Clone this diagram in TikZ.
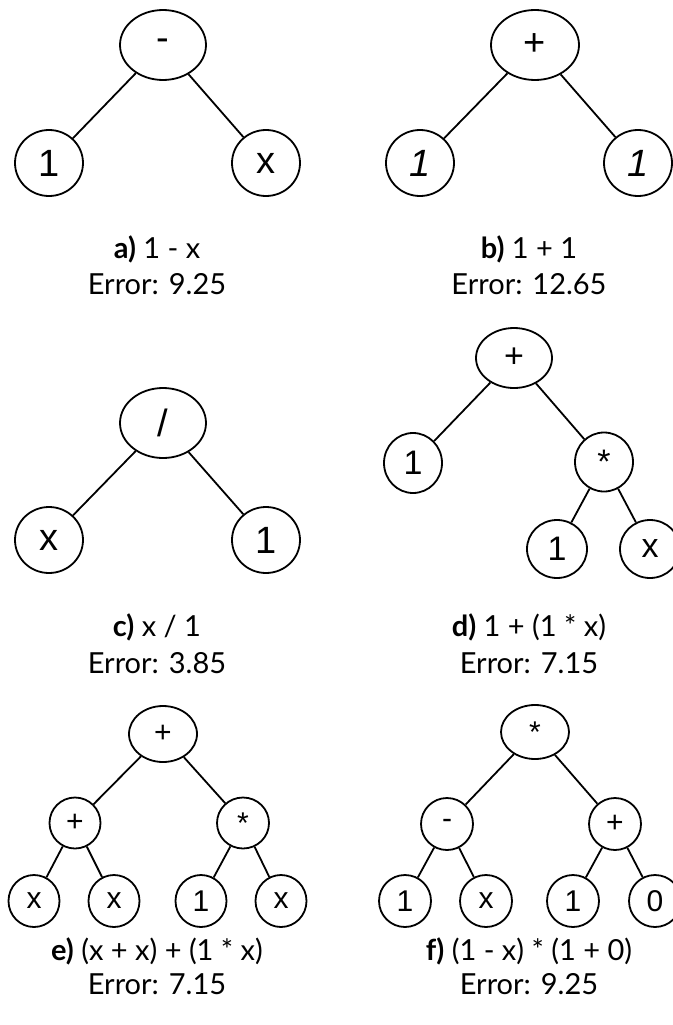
\documentclass[tikz,border=0pt]{standalone}
\usepackage{fontspec}
\setmainfont{Liberation Sans}
\newfontfamily\capfont{Lato}
\usetikzlibrary{shapes.geometric}
\begin{document}
\begin{tikzpicture}[x=1pt,y=-1pt,
  every node/.style={inner sep=0pt},
  tn/.style={draw, line width=1.8pt, ellipse, font=\fontsize{38}{38}\selectfont},
  tm/.style={draw, line width=1.8pt, ellipse, font=\fontsize{34}{34}\selectfont},
  ts/.style={draw, line width=1.8pt, ellipse, font=\fontsize{30}{30}\selectfont},
  treeedge/.style={line width=1.8pt},
  captext/.style={anchor=base, font=\capfont\fontsize{29}{29}\selectfont}]
\useasboundingbox (0,0) rectangle (672,1025);
% a)
\node[tn, minimum width=86pt, minimum height=70pt] (a0) at (163,45) {-};
\node[tn, minimum width=68pt, minimum height=66pt] (a1) at (49,163) {1};
\node[tn, minimum width=68pt, minimum height=66pt] (a2) at (266,163) {x};
\draw[treeedge] (a0) -- (a1); \draw[treeedge] (a0) -- (a2);
\node[captext] (ac) at (157,258) {\textbf{a)} 1 - x};
\node[captext] (ae) at (157,294) {Error: 9.25};
% b)
\node[tn, minimum width=88pt, minimum height=70pt] (b0) at (535,45) {+};
\node[tn, minimum width=68pt, minimum height=66pt] (b1) at (420,163) {\itshape 1};
\node[tn, minimum width=68pt, minimum height=66pt] (b2) at (638,163) {\itshape 1};
\draw[treeedge] (b0) -- (b1); \draw[treeedge] (b0) -- (b2);
\node[captext] (bc) at (529,258) {\textbf{b)} 1 + 1};
\node[captext] (be) at (529,294) {Error: 12.65};
% c)
\node[tn, minimum width=86pt, minimum height=70pt] (c0) at (163,423) {/};
\node[tn, minimum width=68pt, minimum height=66pt] (c1) at (49,540) {x};
\node[tn, minimum width=68pt, minimum height=66pt] (c2) at (266,540) {1};
\draw[treeedge] (c0) -- (c1); \draw[treeedge] (c0) -- (c2);
\node[captext] (cc) at (157,636) {\textbf{c)} x / 1};
\node[captext] (ce) at (157,673) {Error: 3.85};
% d)
\node[tm, minimum width=76pt, minimum height=60pt] (d0) at (514,358) {+};
\node[tm, minimum width=58pt, minimum height=60pt] (d1) at (413,463) {1};
\node[tm, minimum width=58pt, minimum height=59pt] (d2) at (604,462) {*};
\node[tm, minimum width=60pt, minimum height=58pt] (d3) at (557,549) {1};
\node[tm, minimum width=60pt, minimum height=58pt] (d4) at (650,549) {x};
\draw[treeedge] (d0) -- (d1); \draw[treeedge] (d0) -- (d2);
\draw[treeedge] (d2) -- (d3); \draw[treeedge] (d2) -- (d4);
\node[captext] (dc) at (529,636) {\textbf{d)} 1 + (1 * x)};
\node[captext] (de) at (529,673) {Error: 7.15};
% e)
\node[ts, minimum width=68pt, minimum height=56pt] (e0) at (163,734) {+};
\node[ts, minimum width=51pt, minimum height=51pt] (e1) at (75,823) {+};
\node[ts, minimum width=52pt, minimum height=51pt] (e2) at (243,823) {*};
\node[ts, minimum width=51pt, minimum height=52pt] (e3) at (34,901) {x};
\node[ts, minimum width=51pt, minimum height=52pt] (e4) at (114,901) {x};
\node[ts, minimum width=51pt, minimum height=52pt] (e5) at (201,901) {1};
\node[ts, minimum width=51pt, minimum height=52pt] (e6) at (281,901) {x};
\draw[treeedge] (e0) -- (e1); \draw[treeedge] (e0) -- (e2);
\draw[treeedge] (e1) -- (e3); \draw[treeedge] (e1) -- (e4);
\draw[treeedge] (e2) -- (e5); \draw[treeedge] (e2) -- (e6);
\node[captext] (ec) at (157,960) {\textbf{e)} (x + x) + (1 * x)};
\node[captext] (ee) at (157,994) {Error: 7.15};
% f)
\node[ts, minimum width=68pt, minimum height=54pt] (f0) at (535,732) {*};
\node[ts, minimum width=52pt, minimum height=52pt] (f1) at (447,824) {-};
\node[ts, minimum width=52pt, minimum height=52pt] (f2) at (615,824) {+};
\node[ts, minimum width=52pt, minimum height=52pt] (f3) at (405,901) {1};
\node[ts, minimum width=52pt, minimum height=52pt] (f4) at (486,901) {x};
\node[ts, minimum width=52pt, minimum height=52pt] (f5) at (573,901) {1};
\node[ts, minimum width=52pt, minimum height=52pt] (f6) at (655,901) {0};
\draw[treeedge] (f0) -- (f1); \draw[treeedge] (f0) -- (f2);
\draw[treeedge] (f1) -- (f3); \draw[treeedge] (f1) -- (f4);
\draw[treeedge] (f2) -- (f5); \draw[treeedge] (f2) -- (f6);
\node[captext] (fc) at (529,960) {\textbf{f)} (1 - x) * (1 + 0)};
\node[captext] (fe) at (529,994) {Error: 9.25};
\end{tikzpicture}
\end{document}
